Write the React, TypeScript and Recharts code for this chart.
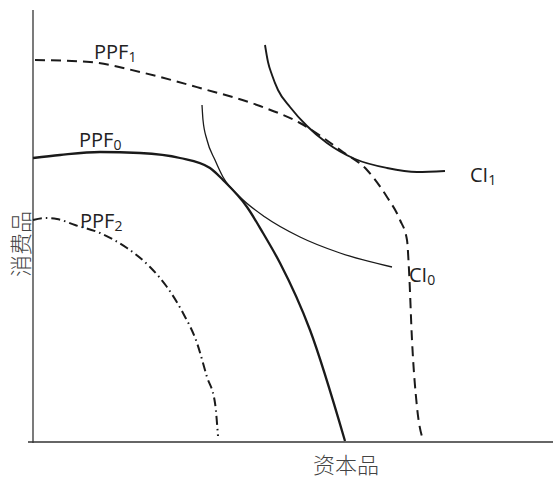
import { LineChart, Line, XAxis, YAxis, ReferenceLine, Customized } from 'recharts';

// coordinates: x = capital goods, y = consumer goods (arbitrary units)
const ppf1X = [2, 57, 107, 167, 227, 267, 310, 334, 354, 367, 374, 376, 379, 384, 390];
const ppf1Y = [382, 380, 370, 354, 336, 319, 290, 272, 245, 222, 202, 172, 102, 35, 2];

const ppf0X = [0, 27, 67, 107, 147, 177, 190, 214, 230, 247, 277, 312];
const ppf0Y = [284, 287, 290, 289, 284, 274, 262, 235, 209, 179, 112, 1];

const ppf2X = [0, 12, 24, 42, 67, 94, 117, 134, 150, 164, 174, 182, 185];
const ppf2Y = [222, 224, 223, 217, 209, 194, 175, 155, 129, 99, 65, 39, 6];

const ci0X = [169, 170, 174, 182, 190, 207, 232, 267, 307, 359];
const ci0Y = [337, 322, 302, 282, 265, 245, 225, 205, 189, 175];

const ci1X = [232, 235, 239, 245, 257, 274, 294, 322, 354, 384, 412];
const ci1Y = [397, 380, 367, 352, 335, 316, 299, 283, 274, 270, 271];

const toPoints = (xs: number[], ys: number[]) => xs.map((x, i) => ({ x, y: ys[i] }));

const ppf1 = toPoints(ppf1X, ppf1Y);
const ppf0 = toPoints(ppf0X, ppf0Y);
const ppf2 = toPoints(ppf2X, ppf2Y);
const ci0 = toPoints(ci0X, ci0Y);
const ci1 = toPoints(ci1X, ci1Y);

const INK = '#1a1a1a';
const latin = '"Open Sans", "Noto Sans", sans-serif';
const cjk = '"Noto Sans CJK SC", sans-serif';

const Sub = ({ x, y, main, sub }: { x: number, y: number, main: string, sub: string }) => (
    <text x={x} y={y} fontFamily={latin} fontSize={20} fill="#222">
        {main}
        <tspan fontSize={14} dy={3} fill="#222">{sub}</tspan>
    </text>
);

const Labels = () => (
    <g>
        <Sub x={94} y={59} main="PPF" sub="1" />
        <Sub x={79} y={147} main="PPF" sub="0" />
        <Sub x={80} y={228} main="PPF" sub="2" />
        <Sub x={470} y={182} main="CI" sub="1" />
        <Sub x={409} y={282} main="CI" sub="0" />
        <text x={346} y={473} textAnchor="middle" fontFamily={cjk} fontSize={22} fontWeight={300} fill="#444">
            资本品
        </text>
        <text
            x={19}
            y={244}
            textAnchor="middle"
            dominantBaseline="central"
            transform="rotate(-90 19 244)"
            fontFamily={cjk}
            fontSize={22}
            fontWeight={300}
            fill="#444"
        >
            消费品
        </text>
    </g>
);

export default function App() {
    return (
        <div style={{ position: 'absolute', left: 0, top: 0, background: '#fff' }}>
            <LineChart width={554} height={480} margin={{ top: 10, right: 1, bottom: 38, left: 33 }}>
                <XAxis dataKey="x" type="number" domain={[0, 520]} hide />
                <YAxis dataKey="y" type="number" domain={[0, 432]} hide />
                <ReferenceLine
                    segment={[{ x: -5, y: 0 }, { x: 520, y: 0 }]}
                    ifOverflow="visible"
                    stroke="#333"
                    strokeWidth={1.3}
                />
                <ReferenceLine
                    segment={[{ x: 0, y: -1 }, { x: 0, y: 432 }]}
                    ifOverflow="visible"
                    stroke="#333"
                    strokeWidth={1.3}
                />
                <Line data={ppf1} dataKey="y" type="monotone" stroke={INK} strokeWidth={2} strokeDasharray="10 6" dot={false} isAnimationActive={false} />
                <Line data={ppf0} dataKey="y" type="monotone" stroke={INK} strokeWidth={2.3} dot={false} isAnimationActive={false} />
                <Line data={ppf2} dataKey="y" type="monotone" stroke={INK} strokeWidth={2} strokeDasharray="9 4 1.5 4" dot={false} isAnimationActive={false} />
                <Line data={ci0} dataKey="y" type="monotone" stroke={INK} strokeWidth={1.3} dot={false} isAnimationActive={false} />
                <Line data={ci1} dataKey="y" type="monotone" stroke={INK} strokeWidth={1.9} dot={false} isAnimationActive={false} />
                <Customized component={Labels} />
            </LineChart>
        </div>
    );
}
